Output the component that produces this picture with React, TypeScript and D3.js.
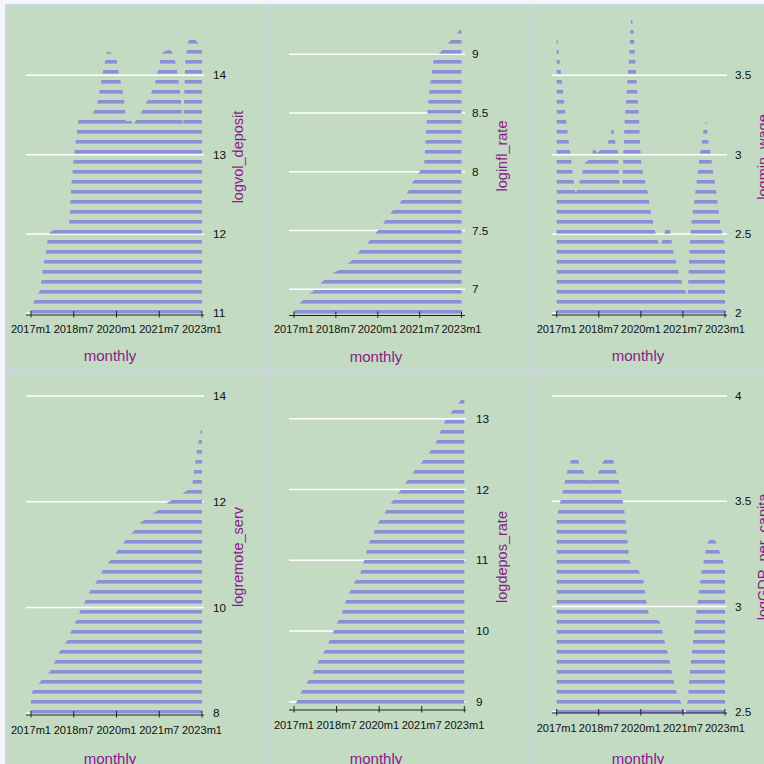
import React from 'react';
import * as d3 from 'd3';

// months since 2017m1
const months = d3.range(73);
const tickMonths = [0, 18, 36, 54, 72];
const tickLabels = ['2017m1', '2018m7', '2020m1', '2021m7', '2023m1'];

const logvolDeposit = [
  11.08, 11.13, 11.2, 11.25, 11.3, 11.58, 11.72, 11.92, 12.02, 12.04,
  12.05, 12.05, 12.14, 12.05, 12.06, 12.07, 12.08, 12.62, 12.95, 13.2,
  13.44, 13.45, 13.46, 13.46, 13.47, 13.48, 13.52, 13.58, 13.65, 13.82,
  14.0, 14.15, 14.3, 14.29, 14.28, 14.26, 14.2, 14.02, 13.88, 13.75,
  13.42, 13.42, 13.43, 13.38, 13.42, 13.45, 13.5, 13.57, 13.62, 13.68,
  13.74, 13.8, 13.87, 14.0, 14.13, 14.27, 14.3, 14.31, 14.32, 14.31,
  14.26, 14.15, 13.95, 13.75, 13.3, 14.2, 14.4, 14.48, 14.53, 14.45,
  14.42, 14.38, 14.33,
];

const loginflRate = [
  6.81, 6.84, 6.87, 6.89, 6.91, 6.93, 6.95, 6.97, 6.98, 7.0,
  7.02, 7.04, 7.06, 7.08, 7.1, 7.11, 7.12, 7.14, 7.15, 7.16,
  7.18, 7.19, 7.2, 7.22, 7.23, 7.25, 7.27, 7.3, 7.32, 7.34,
  7.36, 7.38, 7.4, 7.43, 7.45, 7.47, 7.5, 7.53, 7.55, 7.58,
  7.61, 7.63, 7.66, 7.68, 7.7, 7.72, 7.75, 7.78, 7.8, 7.83,
  7.87, 7.91, 7.94, 7.97, 8.0, 8.04, 8.08, 8.42, 8.65, 8.82,
  8.95, 8.98, 9.0, 9.02, 9.04, 9.06, 9.09, 9.11, 9.13, 9.15,
  9.18, 9.2, 9.22,
];

const logminWage = [
  3.8, 3.62, 3.5, 3.36, 3.22, 3.1, 2.99, 2.86, 2.76, 2.78,
  2.84, 2.89, 2.95, 2.96, 2.97, 2.98, 3.07, 3.01, 3.02, 3.03,
  3.04, 3.05, 3.08, 3.12, 3.2, 3.08, 3.04, 2.8, 2.77, 3.2,
  3.42, 3.62, 3.9, 3.75, 3.5, 3.3, 2.97, 2.88, 2.82, 2.76,
  2.66, 2.59, 2.52, 2.47, 2.43, 2.45, 2.5, 2.55, 2.57, 2.47,
  2.38, 2.33, 2.26, 2.22, 2.18, 2.14, 2.11, 2.45, 2.62, 2.72,
  2.85, 2.97, 3.07, 3.18, 3.21, 3.07, 2.99, 2.88, 2.8, 2.68,
  2.56, 2.48, 2.43,
];

const logremoteServ = [
  8.35, 8.45, 8.5, 8.55, 8.6, 8.65, 8.7, 8.75, 8.79, 8.88,
  8.97, 9.07, 9.16, 9.23, 9.3, 9.36, 9.46, 9.56, 9.65, 9.74,
  9.86, 9.96, 10.05, 10.14, 10.23, 10.32, 10.38, 10.45, 10.52, 10.61,
  10.69, 10.75, 10.81, 10.87, 10.93, 11.0, 11.05, 11.11, 11.17, 11.23,
  11.28, 11.33, 11.39, 11.43, 11.49, 11.54, 11.6, 11.63, 11.66, 11.69,
  11.72, 11.76, 11.8, 11.82, 11.86, 11.89, 11.93, 11.96, 12.0, 12.02,
  12.05, 12.08, 12.1, 12.13, 12.16, 12.19, 12.22, 12.28, 12.35, 12.7,
  13.0, 13.25, 13.42,
];

const logdeposRate = [
  8.92, 8.99, 9.06, 9.13, 9.19, 9.24, 9.3, 9.36, 9.41, 9.48,
  9.55, 9.61, 9.67, 9.72, 9.79, 9.86, 9.94, 10.02, 10.1, 10.16,
  10.23, 10.32, 10.43, 10.51, 10.58, 10.65, 10.71, 10.76, 10.81, 10.92,
  11.03, 11.16, 11.27, 11.34, 11.41, 11.48, 11.55, 11.6, 11.65, 11.7,
  11.75, 11.8, 11.85, 11.89, 11.94, 11.98, 12.03, 12.08, 12.13, 12.18,
  12.22, 12.27, 12.31, 12.35, 12.38, 12.43, 12.47, 12.51, 12.56, 12.61,
  12.66, 12.75, 12.83, 12.9, 12.97, 13.02, 13.07, 13.11, 13.15, 13.2,
  13.24, 13.28, 13.32,
];

const logGDPPerCapita = [
  3.42, 3.47, 3.52, 3.57, 3.62, 3.66, 3.69, 3.71, 3.72, 3.7,
  3.67, 3.65, 3.63, 3.61, 3.6, 3.6, 3.61, 3.62, 3.64, 3.67,
  3.69, 3.71, 3.72, 3.71, 3.7, 3.66, 3.62, 3.58, 3.52, 3.45,
  3.35, 3.22, 3.2, 3.2, 3.19, 3.17, 3.15, 3.13, 3.05, 2.98,
  2.95, 2.945, 2.94, 2.935, 2.93, 2.89, 2.84, 2.8, 2.76, 2.7,
  2.65, 2.6, 2.57, 2.55, 2.51, 2.49, 2.55, 2.68, 2.8, 2.9,
  3.0, 3.08, 3.17, 3.22, 3.28, 3.31, 3.33, 3.33, 3.31, 3.28,
  3.25, 3.22, 3.19,
];

const yTicks1 = [11, 12, 13, 14];
const yTicks2 = [7, 7.5, 8, 8.5, 9];
const yTicks3 = [2, 2.5, 3, 3.5];
const yTicks4 = [8, 10, 12, 14];
const yTicks5 = [9, 10, 11, 12, 13];
const yTicks6 = [2.5, 3, 3.5, 4];

// layout of the combined graph (pixel positions of each sub-plot)
const panels = [
  { name: 'logvol_deposit', values: logvolDeposit, ticks: yTicks1, box: [7, 6, 261, 363], x0: 31, x1: 202, g0: 26, g1: 204, yb: 313.3, yt: 75.3, axisY: 315, labX: 213, titleX: 238, titleY: 157, monthlyX: 110, lab: 17.5, mon: 46 },
  { name: 'loginfl_rate', values: loginflRate, ticks: yTicks2, box: [270, 6, 262, 363], x0: 294, x1: 461.5, g0: 289, g1: 465, yb: 289.3, yt: 54.3, axisY: 315.5, labX: 472, titleX: 502, titleY: 156, monthlyX: 376, lab: 17.5, mon: 46 },
  { name: 'logmin_wage', values: logminWage, ticks: yTicks3, box: [534, 6, 240, 363], x0: 556.7, x1: 725, g0: 552, g1: 727, yb: 313.3, yt: 75.3, axisY: 315, labX: 735, titleX: 763, titleY: 157, monthlyX: 638, lab: 17.5, mon: 46 },
  { name: 'logremote_serv', values: logremoteServ, ticks: yTicks4, box: [7, 373, 261, 400], x0: 31, x1: 202, g0: 26, g1: 204, yb: 713.3, yt: 396, axisY: 715, labX: 213, titleX: 238, titleY: 557, monthlyX: 110, lab: 19, mon: 49 },
  { name: 'logdepos_rate', values: logdeposRate, ticks: yTicks5, box: [270, 373, 262, 400], x0: 294, x1: 464.3, g0: 289, g1: 466, yb: 701.7, yt: 418.7, axisY: 710, labX: 476, titleX: 502, titleY: 557, monthlyX: 376, lab: 19, mon: 54 },
  { name: 'logGDP_per_capita', values: logGDPPerCapita, ticks: yTicks6, box: [534, 373, 240, 400], x0: 556.7, x1: 725, g0: 552, g1: 727, yb: 711.7, yt: 396, axisY: 713, labX: 735, titleX: 763, titleY: 557, monthlyX: 638, lab: 19, mon: 51 },
];

const font = '"Liberation Sans", Arial, sans-serif';
const purple = '#8a1a8a';

const SubPlot = ({ p }: { p: any }) => {
  const x = d3.scaleLinear().domain([0, 72]).range([p.x0, p.x1]);
  const y = d3
    .scaleLinear()
    .domain([p.ticks[0], p.ticks[p.ticks.length - 1]])
    .range([p.yb, p.yt]);
  const area = d3
    .area<number>()
    .x((_, i) => x(months[i]))
    .y0(p.axisY)
    .y1((d) => y(d));
  const [bx, by, bw, bh] = p.box;
  return (
    <g>
      <rect x={bx} y={by} width={bw} height={bh} fill="#c2dbc2" />
      {p.ticks.map((t: number) => (
        <line key={'g' + t} x1={p.g0} x2={p.g1} y1={y(t)} y2={y(t)} stroke="#ffffff" strokeWidth={1.5} />
      ))}
      <path d={area(p.values) || ''} fill="url(#hstripe)" />
      {p.ticks.map((t: number) => (
        <text key={'l' + t} x={p.labX} y={y(t)} dy="0.35em" fontSize={11.8} fill="#111">
          {t}
        </text>
      ))}
      <line x1={p.g0} x2={p.g1} y1={p.axisY} y2={p.axisY} stroke="#222" strokeWidth={1} />
      {tickMonths.map((m, i) => (
        <g key={'t' + m}>
          <line x1={x(m)} x2={x(m)} y1={p.axisY - 4} y2={p.axisY + 2.5} stroke="#222" strokeWidth={1} />
          <text x={x(m)} y={p.axisY + p.lab} textAnchor="middle" fontSize={11.1} fill="#111">
            {tickLabels[i]}
          </text>
        </g>
      ))}
      <text x={p.monthlyX} y={p.axisY + p.mon} textAnchor="middle" fontSize={15} fill={purple}>
        monthly
      </text>
      <text
        transform={`translate(${p.titleX},${p.titleY}) rotate(-90)`}
        textAnchor="middle"
        dy="0.35em"
        fontSize={14.5}
        fill={purple}
      >
        {p.name}
      </text>
    </g>
  );
};

export default function App() {
  return (
    <svg
      width={764}
      height={764}
      style={{ position: 'absolute', left: 0, top: 0, fontFamily: font }}
    >
      <defs>
        <pattern id="hstripe" patternUnits="userSpaceOnUse" width={10} height={10}>
          <rect x={0} y={0} width={10} height={3.6} fill="#8e8ed6" />
        </pattern>
      </defs>
      <rect x={0} y={0} width={764} height={764} fill="#f3f5f6" />
      <rect x={5} y={4} width={770} height={770} fill="#c9d5df" />
      {panels.map((p) => (
        <SubPlot key={p.name} p={p} />
      ))}
    </svg>
  );
}
